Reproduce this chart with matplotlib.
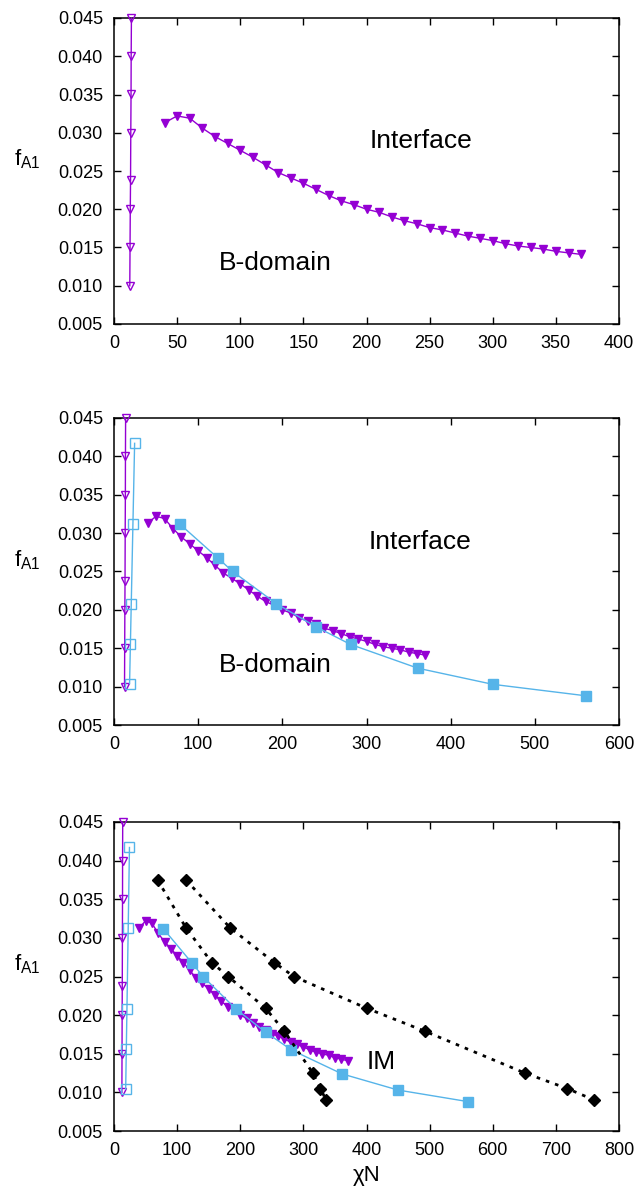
import numpy as np
import matplotlib
matplotlib.use("Agg")
import matplotlib.pyplot as plt

plt.rcParams['font.family'] = ['Liberation Sans', 'DejaVu Sans']
plt.rcParams['mathtext.fontset'] = 'custom'
plt.rcParams['mathtext.rm'] = 'Liberation Sans'
plt.rcParams['mathtext.it'] = 'Liberation Sans:italic'

# open triangles (B-domain boundary)
tri_open_x = [12.5, 12.7, 12.9, 13.1, 13.3, 13.5, 13.6, 13.8]
tri_open_y = [0.010, 0.015, 0.020, 0.0238, 0.030, 0.035, 0.040, 0.045]

# filled triangles (interface)
tri_x = [40, 50, 60, 70, 80, 90, 100, 110, 120, 130, 140,
         150, 160, 170, 180, 190, 200, 210, 220, 230, 240, 250, 260,
         270, 280, 290, 300, 310, 320, 330, 340, 350, 360, 370]
tri_y = [0.0313, 0.0322, 0.0319, 0.0306, 0.0295, 0.0286, 0.0277, 0.0268,
         0.0258, 0.0248, 0.0241,
         0.0234, 0.0226, 0.0218, 0.0211, 0.0206, 0.0200, 0.0196, 0.0190,
         0.0185, 0.0181, 0.0176, 0.0173, 0.0169, 0.0165, 0.0162, 0.0159,
         0.0155, 0.0152, 0.0150, 0.0148, 0.0145, 0.0143, 0.0141]

# open squares
sq_open_x = [18.5, 19.5, 20.5, 22.5, 24.5]
sq_open_y = [0.0104, 0.0156, 0.0208, 0.03125, 0.0417]

# filled squares
sq_x = [78, 124, 141, 193, 240, 281, 361, 450, 561]
sq_y = [0.0312, 0.0267, 0.0250, 0.0208, 0.0178, 0.0155, 0.0124, 0.0103, 0.0088]

# black diamonds (IM)
dia_y = [0.0375, 0.0313, 0.0268, 0.0250, 0.0209, 0.0179, 0.0125, 0.0105, 0.0090]
dia1_x = [69, 114, 155, 181, 240, 270, 315, 327, 336]
dia2_x = [114, 184, 254, 285, 400, 493, 651, 718, 761]

purple = '#9400D3'
blue = '#56B4E9'

fig = plt.figure(figsize=(6.36, 11.89), dpi=100)
left, width = 114 / 636, 505 / 636
ax1 = fig.add_axes([left, 1 - 324 / 1189, width, 306 / 1189])
ax2 = fig.add_axes([left, 1 - 725 / 1189, width, 307 / 1189])
ax3 = fig.add_axes([left, 1 - 1131 / 1189, width, 309 / 1189])


def draw_purple(ax):
    ax.plot(tri_open_x, tri_open_y, color=purple, lw=1, marker='v', ms=6,
            mfc='none', mew=1, clip_on=False, zorder=3)
    ax.plot(tri_x, tri_y, color=purple, lw=1, marker='v', ms=6, zorder=3)


def draw_blue(ax):
    ax.plot(sq_open_x, sq_open_y, color=blue, lw=1, marker='s', ms=6.5,
            mfc='none', mew=1, zorder=4)
    ax.plot(sq_x, sq_y, color=blue, lw=1, marker='s', ms=6.5, zorder=4)


def style(ax, xmax, xstep):
    ax.set_ylim(0.005, 0.045)
    ax.set_xlim(0, xmax)
    ax.set_yticks(np.arange(0.005, 0.0451, 0.005))
    ax.set_yticklabels(['%.3f' % v for v in np.arange(0.005, 0.0451, 0.005)])
    ax.set_xticks(np.arange(0, xmax + 1, xstep))
    ax.tick_params(direction='in', top=True, right=True, length=5,
                   width=1, labelsize=13, pad=8)
    for s in ax.spines.values():
        s.set_linewidth(1.1)
    ax.set_ylabel(r'$\mathregular{f_{A1}}$', rotation=0, fontsize=16)
    ax.yaxis.set_label_coords(-0.172, 0.5)


# panel 1
draw_purple(ax1)
style(ax1, 400, 50)
ax1.text(243, 0.0289, 'Interface', fontsize=19, ha='center', va='center')
ax1.text(128, 0.0130, 'B-domain', fontsize=19, ha='center', va='center')

# panel 2
draw_purple(ax2)
draw_blue(ax2)
style(ax2, 600, 100)
ax2.text(364, 0.0288, 'Interface', fontsize=19, ha='center', va='center')
ax2.text(192, 0.0128, 'B-domain', fontsize=19, ha='center', va='center')

# panel 3
draw_purple(ax3)
draw_blue(ax3)
ax3.plot(dia1_x, dia_y, color='black', lw=2, ls=(0, (1.3, 2.2)),
         marker='D', ms=6.5, zorder=5)
ax3.plot(dia2_x, dia_y, color='black', lw=2, ls=(0, (1.3, 2.2)),
         marker='D', ms=6.5, zorder=5)
style(ax3, 800, 100)
ax3.text(424, 0.0139, 'IM', fontsize=19, ha='center', va='center')
ax3.set_xlabel('χN', fontsize=16, labelpad=4)

fig.savefig('out.png', dpi=100)
